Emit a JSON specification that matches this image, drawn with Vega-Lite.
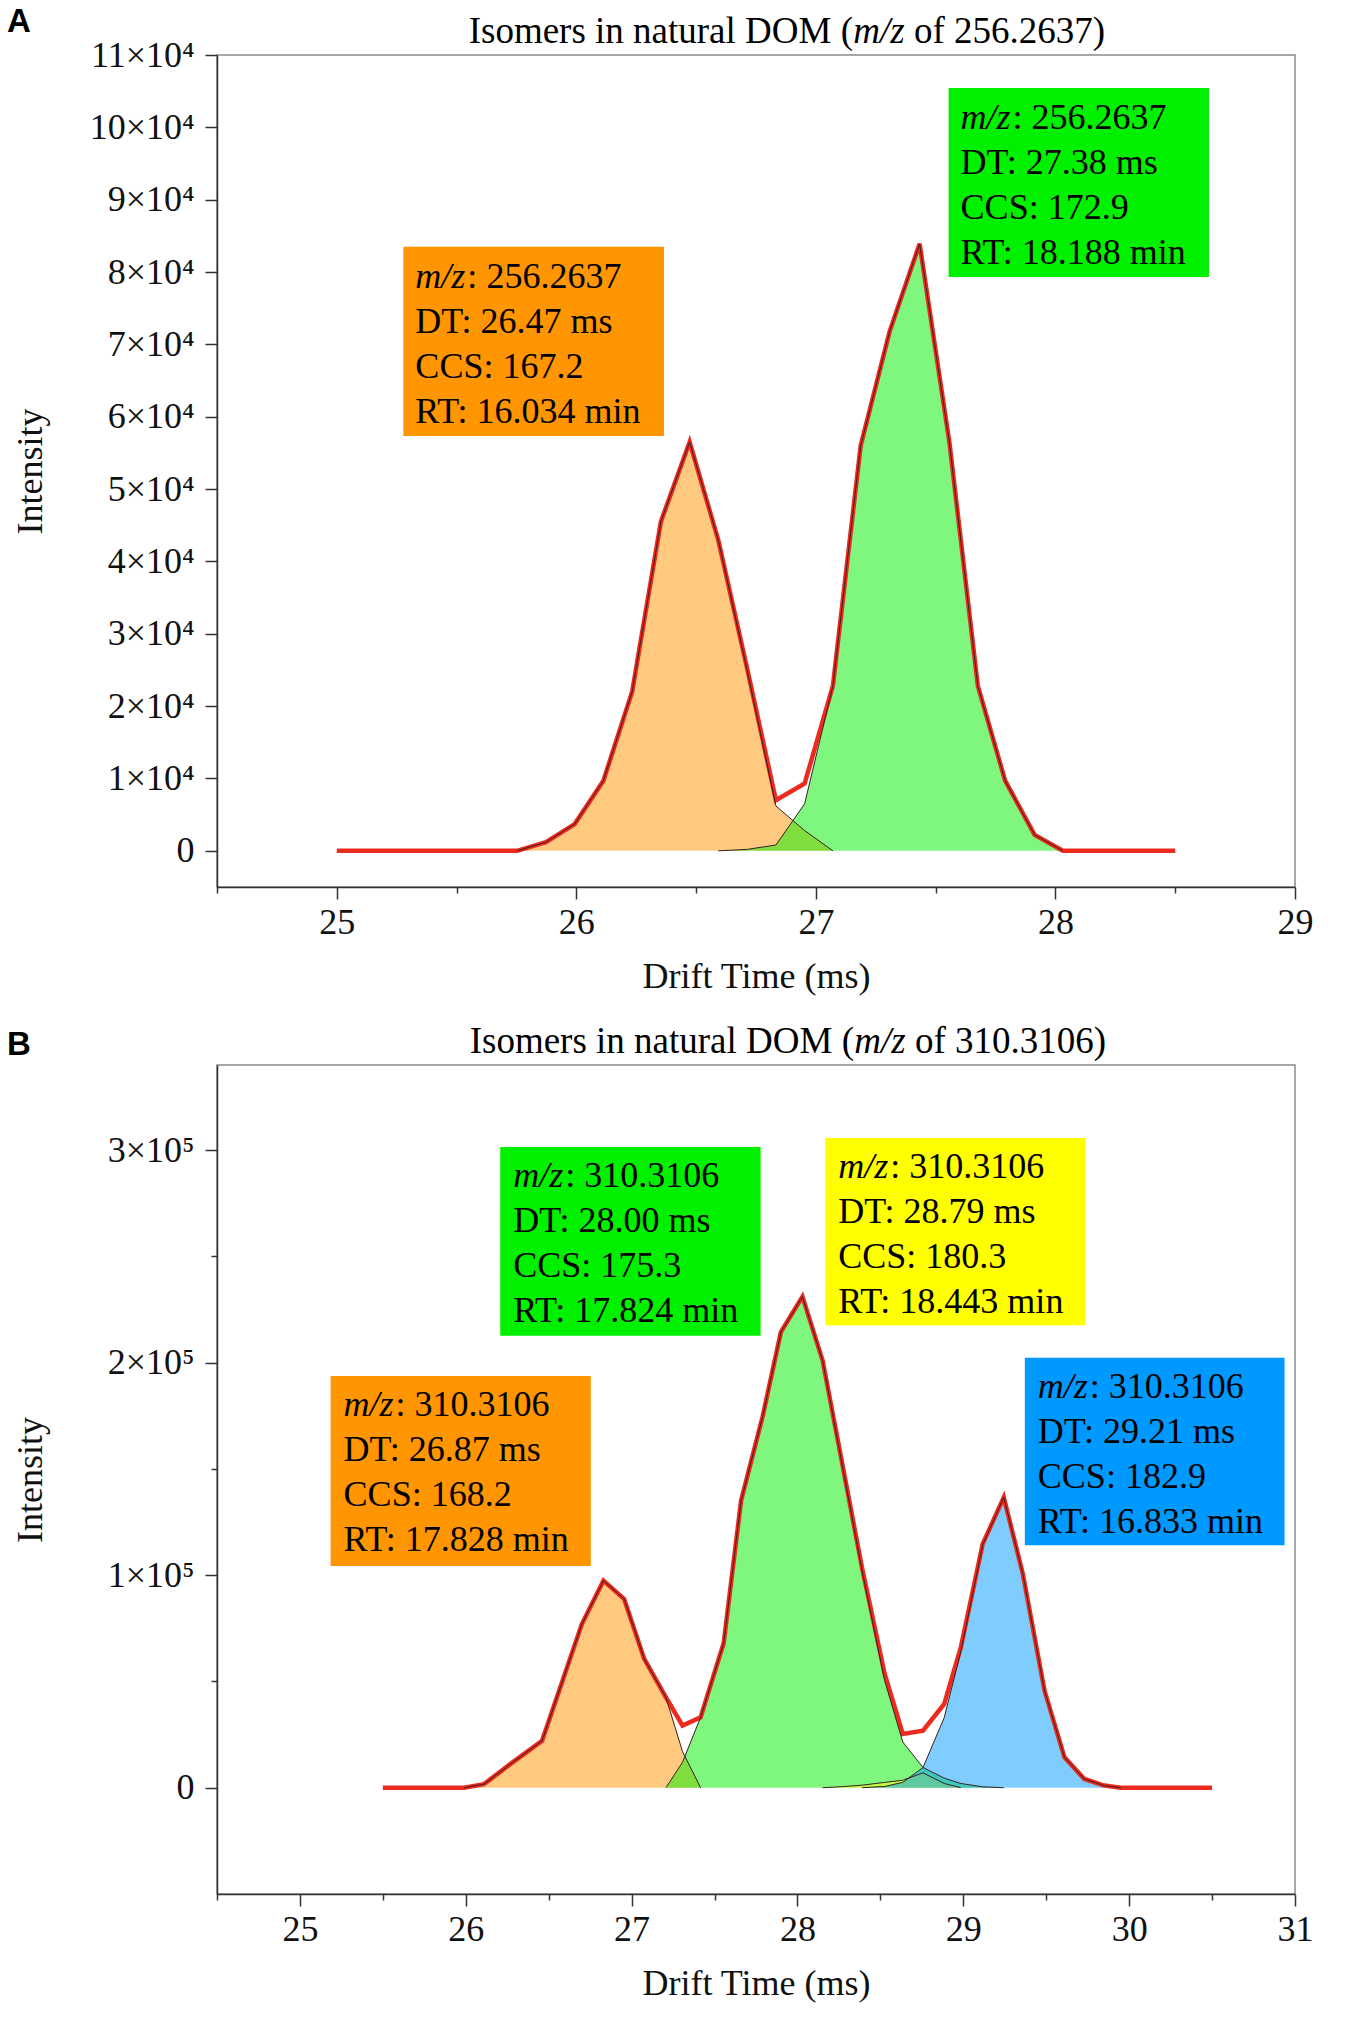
{
  "$schema": "https://vega.github.io/schema/vega-lite/v6.json",
  "padding": {"left": 6, "top": 5, "right": 20, "bottom": 20},
  "bounds": "flush",
  "spacing": 178,
  "config": {
    "font": "Liberation Serif",
    "view": {"stroke": "#8a8a8a", "strokeWidth": 1.5},
    "axis": {"grid": false, "domainColor": "#333", "domainWidth": 1.5, "tickColor": "#333", "tickWidth": 1.5,
      "labelFont": "Liberation Serif", "labelFontSize": 36, "labelColor": "#111", "labelFlush": false, "labelOverlap": false, "labelBound": false,
      "titleFont": "Liberation Serif", "titleFontSize": 36, "titleFontWeight": "normal", "titleColor": "#111"},
    "text": {"font": "Liberation Serif", "fontSize": 36, "color": "#000"}
  },
  "datasets": {
    "one": [{}],
    "aPeaks": [
      {"dt": 25.753, "intensity": 0, "peak": "orange"}, {"dt": 25.873, "intensity": 1200, "peak": "orange"},
      {"dt": 25.993, "intensity": 3700, "peak": "orange"}, {"dt": 26.113, "intensity": 9700, "peak": "orange"},
      {"dt": 26.233, "intensity": 22000, "peak": "orange"}, {"dt": 26.353, "intensity": 45500, "peak": "orange"},
      {"dt": 26.473, "intensity": 56500, "peak": "orange"}, {"dt": 26.593, "intensity": 42900, "peak": "orange"},
      {"dt": 26.713, "intensity": 25000, "peak": "orange"}, {"dt": 26.833, "intensity": 6200, "peak": "orange"},
      {"dt": 26.953, "intensity": 2800, "peak": "orange"}, {"dt": 27.071, "intensity": 0, "peak": "orange"},
      {"dt": 26.593, "intensity": 0, "peak": "green"}, {"dt": 26.713, "intensity": 200, "peak": "green"},
      {"dt": 26.833, "intensity": 800, "peak": "green"}, {"dt": 26.953, "intensity": 6500, "peak": "green"},
      {"dt": 27.071, "intensity": 22800, "peak": "green"}, {"dt": 27.187, "intensity": 56000, "peak": "green"},
      {"dt": 27.308, "intensity": 71800, "peak": "green"}, {"dt": 27.433, "intensity": 83900, "peak": "green"},
      {"dt": 27.558, "intensity": 56300, "peak": "green"}, {"dt": 27.676, "intensity": 22800, "peak": "green"},
      {"dt": 27.79, "intensity": 9700, "peak": "green"}, {"dt": 27.913, "intensity": 2200, "peak": "green"},
      {"dt": 28.031, "intensity": 0, "peak": "green"}
    ],
    "aTotal": [
      {"dt": 25.0, "intensity": 0}, {"dt": 25.753, "intensity": 0}, {"dt": 25.873, "intensity": 1200},
      {"dt": 25.993, "intensity": 3700}, {"dt": 26.113, "intensity": 9700}, {"dt": 26.233, "intensity": 22000},
      {"dt": 26.353, "intensity": 45500}, {"dt": 26.473, "intensity": 56500}, {"dt": 26.593, "intensity": 42900},
      {"dt": 26.713, "intensity": 25200}, {"dt": 26.833, "intensity": 7000}, {"dt": 26.953, "intensity": 9300},
      {"dt": 27.071, "intensity": 22800}, {"dt": 27.187, "intensity": 56000}, {"dt": 27.308, "intensity": 71800},
      {"dt": 27.433, "intensity": 83900}, {"dt": 27.558, "intensity": 56300}, {"dt": 27.676, "intensity": 22800},
      {"dt": 27.79, "intensity": 9700}, {"dt": 27.913, "intensity": 2200}, {"dt": 28.031, "intensity": 0},
      {"dt": 28.5, "intensity": 0}
    ],
    "aBoxes": [
      {"peak": "orange", "x1": 25.278, "x2": 26.366, "ytop": 83500, "ybot": 57340, "l1": ": 256.2637", "l2": "DT: 26.47 ms", "l3": "CCS: 167.2", "l4": "RT: 16.034 min"},
      {"peak": "green", "x1": 27.554, "x2": 28.641, "ytop": 105450, "ybot": 79320, "l1": ": 256.2637", "l2": "DT: 27.38 ms", "l3": "CCS: 172.9", "l4": "RT: 18.188 min"}
    ],
    "bPeaks": [
      {"dt": 25.99, "intensity": 0, "peak": "orange"}, {"dt": 26.11, "intensity": 1700, "peak": "orange"},
      {"dt": 26.27, "intensity": 11200, "peak": "orange"}, {"dt": 26.46, "intensity": 22100, "peak": "orange"},
      {"dt": 26.7, "intensity": 77000, "peak": "orange"}, {"dt": 26.83, "intensity": 97400, "peak": "orange"},
      {"dt": 26.955, "intensity": 88800, "peak": "orange"}, {"dt": 27.076, "intensity": 60600, "peak": "orange"},
      {"dt": 27.207, "intensity": 42500, "peak": "orange"}, {"dt": 27.307, "intensity": 17000, "peak": "orange"},
      {"dt": 27.416, "intensity": 0, "peak": "orange"},
      {"dt": 27.207, "intensity": 0, "peak": "green"}, {"dt": 27.307, "intensity": 12000, "peak": "green"},
      {"dt": 27.416, "intensity": 33100, "peak": "green"}, {"dt": 27.555, "intensity": 68000, "peak": "green"},
      {"dt": 27.66, "intensity": 135000, "peak": "green"}, {"dt": 27.79, "intensity": 174600, "peak": "green"},
      {"dt": 27.9, "intensity": 214300, "peak": "green"}, {"dt": 28.03, "intensity": 231000, "peak": "green"},
      {"dt": 28.152, "intensity": 200900, "peak": "green"}, {"dt": 28.27, "intensity": 152000, "peak": "green"},
      {"dt": 28.39, "intensity": 102000, "peak": "green"}, {"dt": 28.526, "intensity": 50400, "peak": "green"},
      {"dt": 28.635, "intensity": 21500, "peak": "green"}, {"dt": 28.757, "intensity": 9500, "peak": "green"},
      {"dt": 28.885, "intensity": 4500, "peak": "green"}, {"dt": 28.985, "intensity": 2000, "peak": "green"},
      {"dt": 29.117, "intensity": 400, "peak": "green"}, {"dt": 29.244, "intensity": 0, "peak": "green"},
      {"dt": 28.152, "intensity": 0, "peak": "yellow"}, {"dt": 28.27, "intensity": 500, "peak": "yellow"},
      {"dt": 28.39, "intensity": 1200, "peak": "yellow"}, {"dt": 28.526, "intensity": 2500, "peak": "yellow"},
      {"dt": 28.635, "intensity": 3500, "peak": "yellow"}, {"dt": 28.757, "intensity": 7000, "peak": "yellow"},
      {"dt": 28.885, "intensity": 2000, "peak": "yellow"}, {"dt": 28.985, "intensity": 0, "peak": "yellow"},
      {"dt": 28.39, "intensity": 0, "peak": "blue"}, {"dt": 28.526, "intensity": 600, "peak": "blue"},
      {"dt": 28.635, "intensity": 2500, "peak": "blue"}, {"dt": 28.757, "intensity": 9500, "peak": "blue"},
      {"dt": 28.885, "intensity": 33000, "peak": "blue"}, {"dt": 28.985, "intensity": 64000, "peak": "blue"},
      {"dt": 29.117, "intensity": 114300, "peak": "blue"}, {"dt": 29.244, "intensity": 136600, "peak": "blue"},
      {"dt": 29.359, "intensity": 100600, "peak": "blue"}, {"dt": 29.49, "intensity": 45600, "peak": "blue"},
      {"dt": 29.61, "intensity": 14300, "peak": "blue"}, {"dt": 29.73, "intensity": 4100, "peak": "blue"},
      {"dt": 29.85, "intensity": 1000, "peak": "blue"}, {"dt": 29.95, "intensity": 0, "peak": "blue"}
    ],
    "bTotal": [
      {"dt": 25.5, "intensity": 0}, {"dt": 25.99, "intensity": 0}, {"dt": 26.11, "intensity": 1700},
      {"dt": 26.27, "intensity": 11200}, {"dt": 26.46, "intensity": 22100}, {"dt": 26.7, "intensity": 77000},
      {"dt": 26.83, "intensity": 97400}, {"dt": 26.955, "intensity": 88800}, {"dt": 27.076, "intensity": 60600},
      {"dt": 27.207, "intensity": 42500}, {"dt": 27.307, "intensity": 29200}, {"dt": 27.416, "intensity": 33100},
      {"dt": 27.555, "intensity": 68000}, {"dt": 27.66, "intensity": 135000}, {"dt": 27.79, "intensity": 174600},
      {"dt": 27.9, "intensity": 214300}, {"dt": 28.03, "intensity": 231000}, {"dt": 28.152, "intensity": 200900},
      {"dt": 28.27, "intensity": 152500}, {"dt": 28.39, "intensity": 103200}, {"dt": 28.526, "intensity": 53500},
      {"dt": 28.635, "intensity": 25300}, {"dt": 28.757, "intensity": 26800}, {"dt": 28.885, "intensity": 39400},
      {"dt": 28.985, "intensity": 66000}, {"dt": 29.117, "intensity": 114700}, {"dt": 29.244, "intensity": 136600},
      {"dt": 29.359, "intensity": 100600}, {"dt": 29.49, "intensity": 45600}, {"dt": 29.61, "intensity": 14300},
      {"dt": 29.73, "intensity": 4100}, {"dt": 29.85, "intensity": 1000}, {"dt": 29.95, "intensity": 0},
      {"dt": 30.5, "intensity": 0}
    ],
    "bBoxes": [
      {"peak": "orange", "x1": 25.185, "x2": 26.754, "ytop": 193690, "ybot": 104300, "l1": ": 310.3106", "l2": "DT: 26.87 ms", "l3": "CCS: 168.2", "l4": "RT: 17.828 min"},
      {"peak": "green", "x1": 26.208, "x2": 27.778, "ytop": 301420, "ybot": 212650, "l1": ": 310.3106", "l2": "DT: 28.00 ms", "l3": "CCS: 175.3", "l4": "RT: 17.824 min"},
      {"peak": "yellow", "x1": 28.168, "x2": 29.734, "ytop": 305700, "ybot": 217540, "l1": ": 310.3106", "l2": "DT: 28.79 ms", "l3": "CCS: 180.3", "l4": "RT: 18.443 min"},
      {"peak": "blue", "x1": 29.371, "x2": 30.937, "ytop": 202250, "ybot": 114090, "l1": ": 310.3106", "l2": "DT: 29.21 ms", "l3": "CCS: 182.9", "l4": "RT: 16.833 min"}
    ]
  },
  "vconcat": [
    {
      "width": 1078, "height": 832,
      "layer": [
        {"data": {"name": "aPeaks"},
         "mark": {"type": "area", "fillOpacity": 0.5},
         "encoding": {
           "x": {"field": "dt", "type": "quantitative", "scale": {"domain": [24.5, 29], "nice": false, "zero": false},
             "axis": {"title": "Drift Time (ms)", "values": [24.5, 25, 25.5, 26, 26.5, 27, 27.5, 28, 28.5, 29],
               "labelExpr": "datum.value % 1 === 0 ? format(datum.value, 'd') : ''",
               "tickSize": {"condition": {"test": "datum.value % 1 === 0", "value": 12}, "value": 6},
               "labelBaseline": "middle", "labelPadding": 23, "titleY": 100, "titleBaseline": "alphabetic"}},
           "y": {"field": "intensity", "type": "quantitative", "stack": null, "scale": {"domain": [-5000, 110000], "nice": false, "zero": false},
             "axis": {"title": "Intensity", "values": [0, 5000, 10000, 15000, 20000, 25000, 30000, 35000, 40000, 45000, 50000, 55000, 60000, 65000, 70000, 75000, 80000, 85000, 90000, 95000, 100000, 105000, 110000],
               "labelExpr": "datum.value % 10000 === 0 ? (datum.value === 0 ? '0' : (datum.value / 10000) + '×10⁴') : ''",
               "tickSize": {"condition": {"test": "datum.value % 10000 === 0", "value": 12}, "value": 6},
               "labelPadding": 11, "titleX": -176, "titleBaseline": "alphabetic"}},
           "color": {"field": "peak", "type": "nominal", "legend": null,
             "scale": {"domain": ["orange", "green", "yellow", "blue"], "range": ["#FF9500", "#00F000", "#FFFF00", "#0099FF"]}}
         }},
        {"mark": {"type": "rule", "strokeDash": [8, 5], "color": "#555", "strokeWidth": 1.5},
         "encoding": {"y": {"datum": 0}}},
        {"data": {"name": "aTotal"},
         "mark": {"type": "line", "color": "#EC2A1E", "strokeWidth": 4.5},
         "encoding": {"x": {"field": "dt", "type": "quantitative"}, "y": {"field": "intensity", "type": "quantitative"}}},
        {"data": {"name": "aPeaks"},
         "mark": {"type": "line", "color": "#3a2020", "strokeWidth": 1},
         "encoding": {"x": {"field": "dt", "type": "quantitative"}, "y": {"field": "intensity", "type": "quantitative"}, "detail": {"field": "peak"}}},
        {"data": {"name": "aBoxes"},
         "mark": {"type": "rect"},
         "encoding": {"x": {"field": "x1", "type": "quantitative"}, "x2": {"field": "x2"}, "y": {"field": "ytop", "type": "quantitative"}, "y2": {"field": "ybot"},
           "color": {"field": "peak", "type": "nominal", "legend": null}}},
        {"data": {"name": "aBoxes"},
         "mark": {"type": "text", "text": "m/z", "fontStyle": "italic", "align": "left", "baseline": "alphabetic", "dx": 12, "dy": 41},
         "encoding": {"x": {"field": "x1", "type": "quantitative"}, "y": {"field": "ytop", "type": "quantitative"}}},
        {"data": {"name": "aBoxes"},
         "mark": {"type": "text", "align": "left", "baseline": "alphabetic", "dx": 64, "dy": 41},
         "encoding": {"x": {"field": "x1", "type": "quantitative"}, "y": {"field": "ytop", "type": "quantitative"}, "text": {"field": "l1"}}},
        {"data": {"name": "aBoxes"},
         "mark": {"type": "text", "align": "left", "baseline": "alphabetic", "dx": 12, "dy": 86},
         "encoding": {"x": {"field": "x1", "type": "quantitative"}, "y": {"field": "ytop", "type": "quantitative"}, "text": {"field": "l2"}}},
        {"data": {"name": "aBoxes"},
         "mark": {"type": "text", "align": "left", "baseline": "alphabetic", "dx": 12, "dy": 131},
         "encoding": {"x": {"field": "x1", "type": "quantitative"}, "y": {"field": "ytop", "type": "quantitative"}, "text": {"field": "l3"}}},
        {"data": {"name": "aBoxes"},
         "mark": {"type": "text", "align": "left", "baseline": "alphabetic", "dx": 12, "dy": 176},
         "encoding": {"x": {"field": "x1", "type": "quantitative"}, "y": {"field": "ytop", "type": "quantitative"}, "text": {"field": "l4"}}},
        {"data": {"name": "one"},
         "mark": {"type": "text", "text": "Isomers in natural DOM (", "fontSize": 37, "align": "right", "baseline": "alphabetic", "dx": -26, "clip": false},
         "encoding": {"x": {"datum": 27.2634}, "y": {"datum": 111660}}},
        {"data": {"name": "one"},
         "mark": {"type": "text", "text": "m/z", "fontSize": 37, "fontStyle": "italic", "align": "center", "baseline": "alphabetic", "clip": false},
         "encoding": {"x": {"datum": 27.2634}, "y": {"datum": 111660}}},
        {"data": {"name": "one"},
         "mark": {"type": "text", "text": "of 256.2637)", "fontSize": 37, "align": "left", "baseline": "alphabetic", "dx": 35, "clip": false},
         "encoding": {"x": {"datum": 27.2634}, "y": {"datum": 111660}}},
        {"data": {"name": "one"},
         "mark": {"type": "text", "text": "A", "font": "Liberation Sans", "fontWeight": "bold", "fontSize": 33, "align": "left", "baseline": "alphabetic", "clip": false},
         "encoding": {"x": {"datum": 23.6234}, "y": {"datum": 113180}}}
      ]
    },
    {
      "width": 1078, "height": 829,
      "layer": [
        {"data": {"name": "bPeaks"},
         "mark": {"type": "area", "fillOpacity": 0.5},
         "encoding": {
           "x": {"field": "dt", "type": "quantitative", "scale": {"domain": [24.5, 31], "nice": false, "zero": false},
             "axis": {"title": "Drift Time (ms)", "values": [24.5, 25, 25.5, 26, 26.5, 27, 27.5, 28, 28.5, 29, 29.5, 30, 30.5, 31],
               "labelExpr": "datum.value % 1 === 0 ? format(datum.value, 'd') : ''",
               "tickSize": {"condition": {"test": "datum.value % 1 === 0", "value": 12}, "value": 6},
               "labelBaseline": "middle", "labelPadding": 23, "titleY": 100, "titleBaseline": "alphabetic"}},
           "y": {"field": "intensity", "type": "quantitative", "stack": null, "scale": {"domain": [-50000, 340000], "nice": false, "zero": false},
             "axis": {"title": "Intensity", "values": [0, 50000, 100000, 150000, 200000, 250000, 300000],
               "labelExpr": "datum.value % 100000 === 0 ? (datum.value === 0 ? '0' : (datum.value / 100000) + '×10⁵') : ''",
               "tickSize": {"condition": {"test": "datum.value % 100000 === 0", "value": 12}, "value": 6},
               "labelPadding": 11, "titleX": -176, "titleBaseline": "alphabetic"}},
           "color": {"field": "peak", "type": "nominal", "legend": null,
             "scale": {"domain": ["orange", "green", "yellow", "blue"], "range": ["#FF9500", "#00F000", "#FFFF00", "#0099FF"]}}
         }},
        {"mark": {"type": "rule", "strokeDash": [8, 5], "color": "#555", "strokeWidth": 1.5},
         "encoding": {"y": {"datum": 0}}},
        {"data": {"name": "bTotal"},
         "mark": {"type": "line", "color": "#EC2A1E", "strokeWidth": 4.5},
         "encoding": {"x": {"field": "dt", "type": "quantitative"}, "y": {"field": "intensity", "type": "quantitative"}}},
        {"data": {"name": "bPeaks"},
         "mark": {"type": "line", "color": "#3a2020", "strokeWidth": 1},
         "encoding": {"x": {"field": "dt", "type": "quantitative"}, "y": {"field": "intensity", "type": "quantitative"}, "detail": {"field": "peak"}}},
        {"data": {"name": "bBoxes"},
         "mark": {"type": "rect"},
         "encoding": {"x": {"field": "x1", "type": "quantitative"}, "x2": {"field": "x2"}, "y": {"field": "ytop", "type": "quantitative"}, "y2": {"field": "ybot"},
           "color": {"field": "peak", "type": "nominal", "legend": null}}},
        {"data": {"name": "bBoxes"},
         "mark": {"type": "text", "text": "m/z", "fontStyle": "italic", "align": "left", "baseline": "alphabetic", "dx": 13, "dy": 40},
         "encoding": {"x": {"field": "x1", "type": "quantitative"}, "y": {"field": "ytop", "type": "quantitative"}}},
        {"data": {"name": "bBoxes"},
         "mark": {"type": "text", "align": "left", "baseline": "alphabetic", "dx": 65, "dy": 40},
         "encoding": {"x": {"field": "x1", "type": "quantitative"}, "y": {"field": "ytop", "type": "quantitative"}, "text": {"field": "l1"}}},
        {"data": {"name": "bBoxes"},
         "mark": {"type": "text", "align": "left", "baseline": "alphabetic", "dx": 13, "dy": 85},
         "encoding": {"x": {"field": "x1", "type": "quantitative"}, "y": {"field": "ytop", "type": "quantitative"}, "text": {"field": "l2"}}},
        {"data": {"name": "bBoxes"},
         "mark": {"type": "text", "align": "left", "baseline": "alphabetic", "dx": 13, "dy": 130},
         "encoding": {"x": {"field": "x1", "type": "quantitative"}, "y": {"field": "ytop", "type": "quantitative"}, "text": {"field": "l3"}}},
        {"data": {"name": "bBoxes"},
         "mark": {"type": "text", "align": "left", "baseline": "alphabetic", "dx": 13, "dy": 175},
         "encoding": {"x": {"field": "x1", "type": "quantitative"}, "y": {"field": "ytop", "type": "quantitative"}, "text": {"field": "l4"}}},
        {"data": {"name": "one"},
         "mark": {"type": "text", "text": "Isomers in natural DOM (", "fontSize": 37, "align": "right", "baseline": "alphabetic", "dx": -26, "clip": false},
         "encoding": {"x": {"datum": 28.4976}, "y": {"datum": 345645}}},
        {"data": {"name": "one"},
         "mark": {"type": "text", "text": "m/z", "fontSize": 37, "fontStyle": "italic", "align": "center", "baseline": "alphabetic", "clip": false},
         "encoding": {"x": {"datum": 28.4976}, "y": {"datum": 345645}}},
        {"data": {"name": "one"},
         "mark": {"type": "text", "text": "of 310.3106)", "fontSize": 37, "align": "left", "baseline": "alphabetic", "dx": 35, "clip": false},
         "encoding": {"x": {"datum": 28.4976}, "y": {"datum": 345645}}},
        {"data": {"name": "one"},
         "mark": {"type": "text", "text": "B", "font": "Liberation Sans", "fontWeight": "bold", "fontSize": 33, "align": "left", "baseline": "alphabetic", "clip": false},
         "encoding": {"x": {"datum": 23.2338}, "y": {"datum": 344700}}}
      ]
    }
  ]
}
